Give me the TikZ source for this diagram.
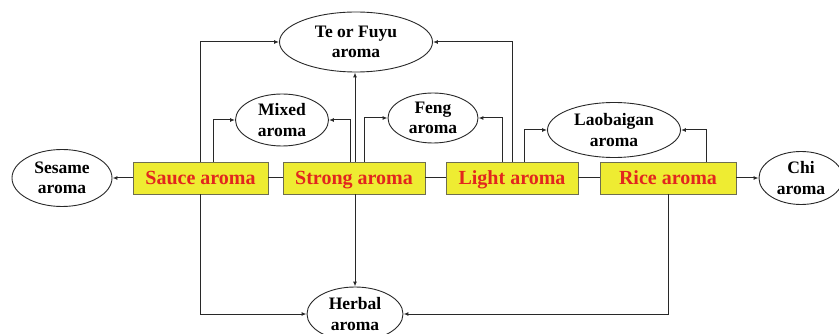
\documentclass[tikz,border=0pt]{standalone}
\usepackage{fontspec}
\setmainfont{Liberation Serif}
\usetikzlibrary{arrows.meta,shapes.geometric}
\definecolor{boxyel}{RGB}{238,236,50}
\definecolor{boxred}{RGB}{226,38,30}
\definecolor{lin}{RGB}{40,40,40}
\definecolor{boxline}{RGB}{110,110,80}
\begin{document}
\begin{tikzpicture}[x=1pt,y=-1pt,
  aromabox/.style={draw=boxline, fill=boxyel, line width=0.8pt, minimum height=32pt, inner sep=0pt,
    text height=15pt, text depth=1pt,
    font=\bfseries\fontsize{20}{22}\selectfont, text=boxred},
  aromaell/.style={ellipse, draw=lin, line width=0.9pt, inner sep=0pt, align=center,
    font=\bfseries\fontsize{17.5}{20.5}\selectfont},
  conn/.style={draw=lin, line width=1pt},
  arr/.style={conn, -{Latex[length=5pt,width=4pt]}}]
\clip (0,0) rectangle (839,334);
\fill[white] (0,0) rectangle (839,334);

\node[aromabox, minimum width=135pt] (sauce) at (200.5,178) {Sauce aroma};
\node[aromabox, minimum width=142pt] (strong) at (354,178) {Strong aroma};
\node[aromabox, minimum width=132pt] (light) at (512,178) {Light aroma};
\node[aromabox, minimum width=136pt] (rice) at (668,178) {Rice aroma};

\node[aromaell, minimum width=100pt, minimum height=57pt] (sesame) at (62,178) {Sesame\\aroma};
\node[aromaell, minimum width=84pt, minimum height=53pt] (chi) at (801,178) {Chi\\aroma};
\node[aromaell, minimum width=153pt, minimum height=60pt] (te) at (356,42) {Te or Fuyu\\aroma};
\node[aromaell, minimum width=93pt, minimum height=52pt] (mixed) at (282,120) {Mixed\\aroma};
\node[aromaell, minimum width=90pt, minimum height=50pt] (feng) at (433,118) {Feng\\aroma};
\node[aromaell, minimum width=133pt, minimum height=55pt] (laob) at (614,130) {Laobaigan\\aroma};
\node[aromaell, minimum width=96pt, minimum height=54pt] (herbal) at (355,314) {Herbal\\aroma};

% links between boxes
\draw[conn] (sauce.east) -- (strong.west);
\draw[conn] (strong.east) -- (light.west);
\draw[conn] (light.east) -- (rice.west);

% side arrows
\draw[arr] (sauce.west) -- (sesame.east);
\draw[arr] (rice.east) -- (chi.west);

% upward connections
\draw[arr] ([xshift=-0.5pt]sauce.north) |- (te.west);
\draw[arr] ([xshift=12.5pt]sauce.north) |- (mixed.west);
\draw[arr] ([xshift=-4pt]strong.north) |- (mixed.east);
\draw[arr] ([xshift=1pt]strong.north) -- ([xshift=1pt]strong.north |- te.south);
\draw[arr] ([xshift=10pt]strong.north) |- (feng.west);
\draw[arr] ([xshift=-10pt]light.north) |- (feng.east);
\draw[arr] (light.north) |- (te.east);
\draw[arr] ([xshift=12pt]light.north) |- (laob.west);
\draw[arr] ([xshift=38pt]rice.north) |- (laob.east);

% downward connections
\draw[arr] ([xshift=-0.5pt]sauce.south) |- (herbal.west);
\draw[arr] ([xshift=1pt]strong.south) -- ([xshift=1pt]strong.south |- herbal.north);
\draw[arr] (rice.south) |- (herbal.east);
\end{tikzpicture}
\end{document}
